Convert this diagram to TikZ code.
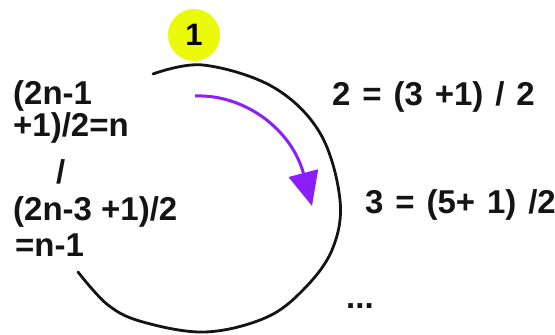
\documentclass[tikz,border=0pt]{standalone}
\usepackage{fontspec}
\setmainfont{Liberation Sans}
\usetikzlibrary{arrows.meta}
\definecolor{ringblack}{RGB}{20,20,20}
\definecolor{badgeyellow}{RGB}{235,250,10}
\definecolor{arrowviolet}{RGB}{140,30,250}
\tikzset{
  ring/.style={draw=ringblack, line width=2.8pt, line cap=round},
  badge/.style={circle, fill=badgeyellow, minimum size=52pt, inner sep=0pt,
    font=\bfseries\fontsize{31}{34}\selectfont},
  eq/.style={anchor=base west, inner sep=0pt, text=ringblack,
    font=\bfseries\fontsize{33}{36}\selectfont},
  wideeq/.style={eq, execute at begin node={\spaceskip=0.36em plus 0.1em\relax}},
  turn/.style={draw=arrowviolet, line width=3pt,
    -{Triangle[length=34pt,width=30pt]}}
}
\begin{document}
\begin{tikzpicture}[x=1pt,y=-1pt]
\useasboundingbox (0,0) rectangle (555,335);
% ring (open on the left)
\draw[ring] plot[smooth, tension=0.6] coordinates {(153,74) (203,65) (273,87) (320,133) (340,200) (332,250) (303,290) (265,318) (205,332) (143,322) (108,305) (78,272)};
% badge
\node[badge] (one) at (194,35) {1};
% purple turning arrow
\coordinate (astart) at (195,96);
\coordinate (aend) at (312,206);
\draw[turn] (astart) .. controls (245,94) and (292,130) .. (aend);
% left text
\node[eq] (l1) at (13,104) {(2n-1};
\node[eq] (l2) at (13,136) {+1)/2=n};
\node[eq] (l3) at (56,183) {/};
\node[eq] (l4) at (13,220) {(2n-3 +1)/2};
\node[eq] (l5) at (15,256) {=n-1};
% right text
\node[wideeq] (r1) at (332,105) {2 = (3 +1) / 2};
\node[wideeq] (r2) at (365,213) {3 = (5+ 1) /2};
\node[eq] (r3) at (346,308) {...};
\end{tikzpicture}
\end{document}
